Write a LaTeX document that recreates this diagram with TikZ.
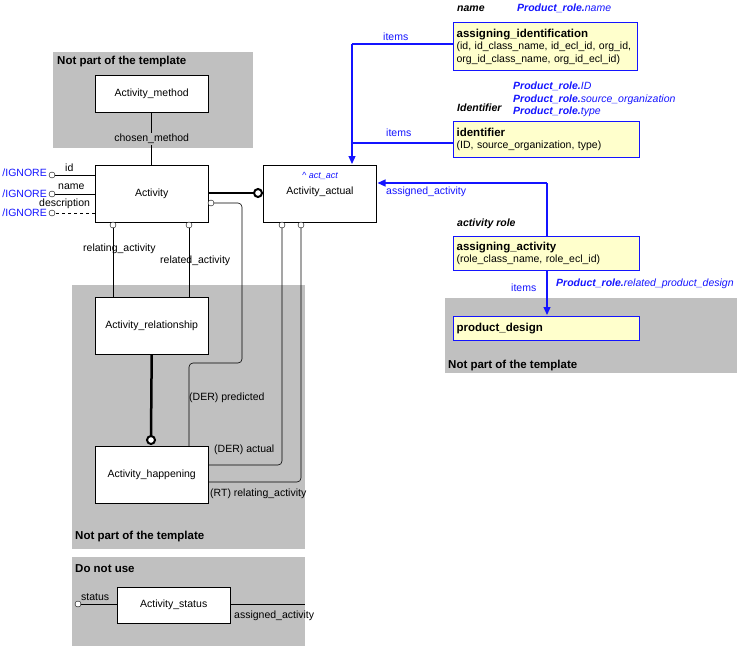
\documentclass[tikz,border=0pt]{standalone}
\usepackage{fontspec}
\setmainfont{Liberation Sans}
\usetikzlibrary{arrows.meta}
\definecolor{bl}{RGB}{20,20,255}
\definecolor{yel}{RGB}{255,255,204}
\definecolor{gr}{RGB}{192,192,192}
\begin{document}
\begin{tikzpicture}[x=1pt,y=-1pt,
  every node/.style={font=\fontsize{10.5}{12.5}\selectfont, inner sep=1pt},
  ent/.style={draw, fill=white, minimum width=113pt, minimum height=57pt, anchor=north west},
  sel/.style={draw=bl, line width=1.2pt, fill=yel, anchor=north west, align=left, inner sep=3pt, text width=180pt},
  lab/.style={anchor=west},
  blab/.style={anchor=west, text=bl},
  oc/.style={draw, fill=white, circle, inner sep=0pt, minimum size=6pt},
  ln/.style={draw, line width=0.6pt},
  bln/.style={draw=bl, line width=1.2pt},
  ttl/.style={lab, font=\fontsize{11.5}{13}\selectfont\bfseries},
  it/.style={lab, font=\fontsize{10.5}{12.5}\selectfont\bfseries\itshape},
  arr/.style={-{Triangle[width=7pt,length=8pt]}}]
\useasboundingbox (0,0) rectangle (738,648);
% grey areas
\fill[gr] (53,52) rectangle (253,148);
\fill[gr] (72,285) rectangle (305,549);
\fill[gr] (72,557) rectangle (305,646);
\fill[gr] (445,298) rectangle (737,373);
\node[ttl] (g1) at (56,62) {Not part of the template};
\node[ttl] (g2) at (74,537) {Not part of the template};
\node[ttl] (g3) at (74,569) {Do not use};
\node[ttl] (g4) at (447,366) {Not part of the template};
% entities
\node[ent, minimum height=37pt] (am) at (95,75) {Activity\_method};
\node[ent] (act) at (95,165) {Activity};
\node[ent] (aa) at (263,165) {};
\node (aat) at (320,176) {\textcolor{bl}{\itshape\fontsize{9}{10}\selectfont \^{} act\_act}};
\node (aan) at (320,192) {Activity\_actual};
\node[ent] (ar) at (95,297) {Activity\_relationship};
\node[ent] (ah) at (95,446) {Activity\_happening};
\node[ent, minimum height=36pt] (as) at (117,587) {Activity\_status};
% chosen method
\draw[ln] (am.south) -- (act.north) node[pos=0.5, fill=gr] (cm) {chosen\_method};
% attributes
\coordinate (c1) at (52,175);
\coordinate (c2) at (52,194);
\coordinate (c3) at (52,213);
\draw[ln] (95,175) -- (c1); \node[oc] (o1) at (c1) {};
\draw[ln] (95,194) -- (c2); \node[oc] (o2) at (c2) {};
\draw[ln, dashed] (95,213) -- (c3); \node[oc] (o3) at (c3) {};
\node[lab] (l1) at (64,168) {id};
\node[lab] (l2) at (57,187) {name};
\node[lab] (l3) at (38,204) {description};
\node[anchor=east, text=bl] (i1) at (48,173) {/IGNORE};
\node[anchor=east, text=bl] (i2) at (48,194) {/IGNORE};
\node[anchor=east, text=bl] (i3) at (48,213) {/IGNORE};
% act -> aa thick
\draw[line width=2.5pt] (208,193) -- (258,193);
\node[oc, line width=2pt, minimum size=8pt] (ox) at (258,193) {};
% relating / related
\draw[ln] (113,225) -- (113,297); \node[oc] (o4) at (113,225) {};
\draw[ln] (189,225) -- (189,297); \node[oc] (o5) at (189,225) {};
\node[lab] (l4) at (82,249) {relating\_activity};
\node[lab] (l5) at (159,261) {related\_activity};
% ar -> ah thick
\draw[line width=2.5pt] (ar.south) -- (151,438);
\node[oc, line width=2pt, minimum size=8pt] (oy) at (151,440) {};
% DER predicted
\draw[ln, rounded corners=4pt] (211,203) -- (242,203) -- (242,363) -- (189,363) -- (189,446);
\node[oc] (o6) at (211,203) {};
\node[lab] (l6) at (188,398) {(DER) predicted};
% DER actual
\draw[ln, rounded corners=4pt] (282,225) -- (282,465) -- (208,465);
\node[oc] (o7) at (282,225) {};
\node[lab] (l7) at (213,450) {(DER) actual};
% RT relating
\draw[ln, rounded corners=4pt] (301,225) -- (301,482) -- (208,482);
\node[oc] (o8) at (301,225) {};
\node[lab] (l8) at (209,494) {(RT) relating\_activity};
% status
\draw[ln] (117,604) -- (78,604); \node[oc] (o9) at (78,604) {};
\node[lab] (l9) at (80,597) {status};
\draw[ln] (231,604) -- (305,604);
\node[lab] (l10) at (233,616) {assigned\_activity};
% right side
\node[it] (n1) at (456,9) {name};
\node[blab] (n2) at (516,8) {\bfseries\itshape Product\_role.\mdseries name};
\node[sel, text width=178pt, minimum height=48pt] (ai) at (453,22) {\textbf{\fontsize{11.5}{12.5}\selectfont assigning\_identification}\\(id, id\_class\_name, id\_ecl\_id, org\_id,\\org\_id\_class\_name, org\_id\_ecl\_id)};
\node[it] (n3) at (456,108) {Identifier};
\node[blab, align=left, anchor=north west, font=\fontsize{10.5}{12.5}\selectfont] (n4) at (512,81) {\bfseries\itshape Product\_role.\mdseries ID\\\bfseries\itshape Product\_role.\mdseries source\_organization\\\bfseries\itshape Product\_role.\mdseries type};
\node[sel, minimum height=36pt] (idf) at (453,121) {\textbf{\fontsize{11.5}{12.5}\selectfont identifier}\\(ID, source\_organization, type)};
\node[it] (n5) at (456,224) {activity role};
\node[sel, minimum height=34pt] (asg) at (453,236) {\textbf{\fontsize{11.5}{12.5}\selectfont assigning\_activity}\\(role\_class\_name, role\_ecl\_id)};
\node[sel, minimum height=24pt] (pd) at (453,316) {\textbf{\fontsize{11.5}{12.5}\selectfont product\_design}};
\coordinate (j1) at (352,44);
\draw[bln] (ai.west |- 0,44) -- (j1);
\draw[bln, arr] (j1) -- (352,164);
\draw[bln] (idf.west |- 0,143) -- (352,143);
\node[blab] (it1) at (382,37) {items};
\node[blab] (it2) at (385,133) {items};
\coordinate (j2) at (547,183);
\draw[bln] (547,236) -- (j2);
\draw[bln, arr] (j2) -- (377.5,183);
\node[blab] (l11) at (385,192) {assigned\_activity};
\draw[bln, arr] (547,270) -- (547,315);
\node[blab] (it3) at (510,288) {items};
\node[blab] (l12) at (555,284) {\bfseries\itshape Product\_role.\mdseries related\_product\_design};
\end{tikzpicture}
\end{document}
